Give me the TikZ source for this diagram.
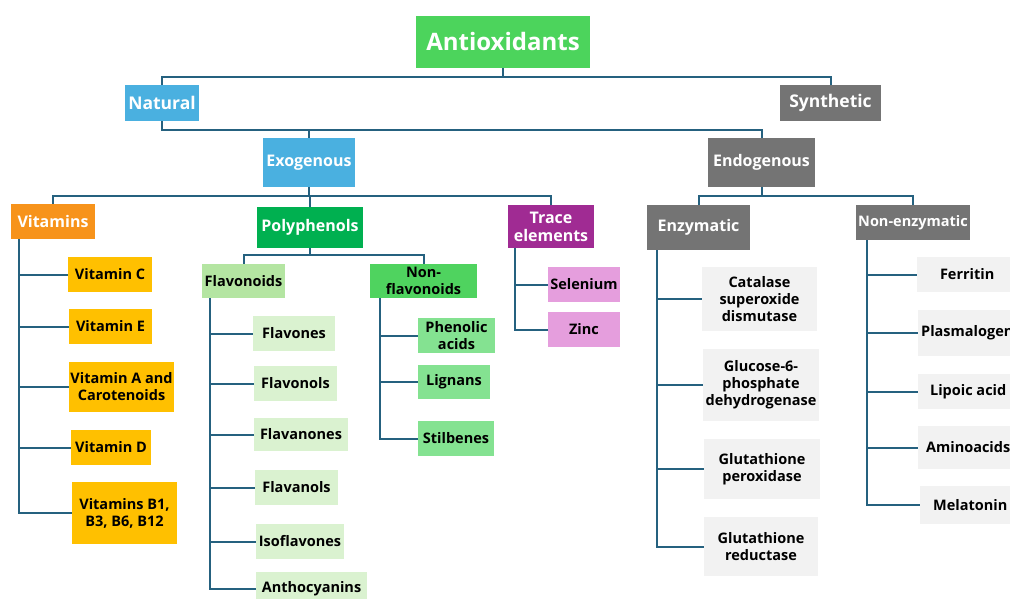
\documentclass[tikz,border=0pt]{standalone}
\usepackage{fontspec}
\setmainfont{Open Sans}
\usepackage{xcolor}
\usepackage{tikz}
\usetikzlibrary{positioning}
\definecolor{topgreen}{HTML}{4CD45C}
\definecolor{natblue}{HTML}{4AB0E0}
\definecolor{syngray}{HTML}{747474}
\definecolor{vitorange}{HTML}{F7931B}
\definecolor{polygreen}{HTML}{00B050}
\definecolor{tracepurple}{HTML}{A02B93}
\definecolor{vityellow}{HTML}{FFC000}
\definecolor{flavogreen}{HTML}{B4E5A2}
\definecolor{flavoleaf}{HTML}{DAF2D0}
\definecolor{nonflavogreen}{HTML}{4FD35F}
\definecolor{nonflavoleaf}{HTML}{84E291}
\definecolor{tracepink}{HTML}{E59EDD}
\definecolor{enzleaf}{HTML}{F2F2F2}
\definecolor{linkblue}{HTML}{25617F}

\begin{document}
\begin{tikzpicture}[x=1pt,y=-1pt,line join=miter,
  box/.style={inner sep=3pt,align=center,font=\bfseries\fontsize{14.5}{17}\selectfont},
  head/.style={box,text=white,font=\bfseries\fontsize{16}{18}\selectfont},
  leaf/.style={box,text=black},
  link/.style={draw=linkblue,line width=2pt}]
\useasboundingbox (0,0) rectangle (1010,599);
\clip (0,0) rectangle (1010,599);
\node[head,fill=topgreen,minimum width=174,minimum height=52,font=\bfseries\fontsize{24}{28}\selectfont] (anti) at (503,42) {Antioxidants};
\node[head,fill=natblue,minimum width=74,minimum height=36,font=\bfseries\fontsize{17.5}{20}\selectfont] (nat) at (162,103) {Natural};
\node[head,fill=syngray,minimum width=101,minimum height=36,font=\bfseries\fontsize{17.5}{20}\selectfont] (syn) at (830.5,103) {Synthetic};
\node[head,fill=natblue,minimum width=90,minimum height=49] (exo) at (309,162.5) {Exogenous};
\node[head,fill=syngray,minimum width=107,minimum height=49] (endo) at (761.5,162.5) {Endogenous};
\node[head,fill=vitorange,minimum width=84,minimum height=35] (vit) at (53,221.5) {Vitamins};
\node[head,fill=polygreen,minimum width=106,minimum height=41] (poly) at (310,227.5) {Polyphenols};
\node[head,fill=tracepurple,minimum width=86,minimum height=43,inner sep=1pt,font=\bfseries\fontsize{16}{18}\selectfont] (trace) at (551,226.5) {Trace\\elements};
\node[head,fill=syngray,minimum width=103,minimum height=45] (enz) at (698.5,227.5) {Enzymatic};
\node[head,fill=syngray,minimum width=114,minimum height=35,inner sep=1pt,font=\bfseries\fontsize{14.5}{17}\selectfont] (nonenz) at (913,222.5) {Non-enzymatic};
\node[leaf,fill=flavogreen,minimum width=83,minimum height=34,inner sep=1pt] (flavo) at (243.5,281) {Flavonoids};
\node[leaf,fill=nonflavogreen,minimum width=107,minimum height=34,inner sep=0pt] (nonflavo) at (423.5,281) {Non-\\flavonoids};
\node[leaf,fill=vityellow,minimum width=84,minimum height=35] (vitc) at (110,274.5) {Vitamin C};
\node[leaf,fill=vityellow,minimum width=83,minimum height=35] (vite) at (110.5,326.5) {Vitamin E};
\node[leaf,fill=vityellow,minimum width=103,minimum height=50,inner sep=1pt] (vita) at (121.5,387) {Vitamin A and\\Carotenoids};
\node[leaf,fill=vityellow,minimum width=80,minimum height=35] (vitd) at (111,447.5) {Vitamin D};
\node[leaf,fill=vityellow,minimum width=105,minimum height=62] (vitb) at (124.5,513) {Vitamins B1,\\B3, B6, B12};
\node[leaf,fill=flavoleaf,minimum width=82,minimum height=35] (flavones) at (294,333.5) {Flavones};
\node[leaf,fill=flavoleaf,minimum width=83,minimum height=35] (flavonols) at (295.5,383.5) {Flavonols};
\node[leaf,fill=flavoleaf,minimum width=94,minimum height=33] (flavanones) at (301,434.5) {Flavanones};
\node[leaf,fill=flavoleaf,minimum width=83,minimum height=35] (flavanols) at (296.5,487.5) {Flavanols};
\node[leaf,fill=flavoleaf,minimum width=88,minimum height=35] (isoflav) at (300,541.5) {Isoflavones};
\node[leaf,fill=flavoleaf,minimum width=111,minimum height=35] (antho) at (311.5,589) {Anthocyanins};
\node[leaf,fill=nonflavoleaf,minimum width=77,minimum height=35,inner sep=0pt] (phenolic) at (456.5,335.5) {Phenolic\\acids};
\node[leaf,fill=nonflavoleaf,minimum width=72,minimum height=34] (lignans) at (454,382) {Lignans};
\node[leaf,fill=nonflavoleaf,minimum width=76,minimum height=35] (stilb) at (456,438.5) {Stilbenes};
\node[leaf,fill=tracepink,minimum width=72,minimum height=35,inner sep=1pt] (selen) at (584,284.5) {Selenium};
\node[leaf,fill=tracepink,minimum width=72,minimum height=35] (zinc) at (584,329.5) {Zinc};
\node[leaf,fill=enzleaf,minimum width=115,minimum height=64,inner sep=0pt] (catal) at (759.5,299) {Catalase\\superoxide\\dismutase};
\node[leaf,fill=enzleaf,minimum width=116,minimum height=72,inner sep=1pt] (g6pd) at (761,385) {Glucose-6-\\phosphate\\dehydrogenase};
\node[leaf,fill=enzleaf,minimum width=116,minimum height=60] (gpx) at (762,469) {Glutathione\\peroxidase};
\node[leaf,fill=enzleaf,minimum width=114,minimum height=59] (gred) at (761,546.5) {Glutathione\\reductase};
\node[leaf,fill=enzleaf,minimum width=100,minimum height=35,anchor=west] (ferr) at (917,274.5) {Ferritin};
\node[leaf,fill=enzleaf,minimum width=100,minimum height=46,anchor=west] (plasm) at (918,333) {Plasmalogens};
\node[leaf,fill=enzleaf,minimum width=100,minimum height=35,anchor=west] (lipoic) at (918,391.5) {Lipoic acid};
\node[leaf,fill=enzleaf,minimum width=100,minimum height=43,anchor=west] (amino) at (918,447.5) {Aminoacids};
\node[leaf,fill=enzleaf,minimum width=100,minimum height=38,anchor=west] (melat) at (920,505) {Melatonin};
\draw[link] (anti.south) -- ++(0,9) -| (nat.north);
\draw[link] (anti.south) -- ++(0,9) -| (syn.north);
\draw[link] (nat.south) -- ++(0,9) -| (exo.north);
\draw[link] (nat.south) -- ++(0,9) -| (endo.north);
\draw[link] (exo.south) -- ++(0,9) -| (vit.north);
\draw[link] (exo.south) -- ++(0,9) -| (poly.north);
\draw[link] (exo.south) -- ++(0,9) -| (trace.north);
\draw[link] (endo.south) -- ++(0,9) -| (enz.north);
\draw[link] (endo.south) -- ++(0,9) -| (nonenz.north);
\draw[link] (poly.south) -- ++(0,7) -| (flavo.north);
\draw[link] (poly.south) -- ++(0,7) -| (nonflavo.north);
\draw[link] ([xshift=8]vit.south west) |- (vitc.west);
\draw[link] ([xshift=8]vit.south west) |- (vite.west);
\draw[link] ([xshift=8]vit.south west) |- (vita.west);
\draw[link] ([xshift=8]vit.south west) |- (vitd.west);
\draw[link] ([xshift=8]vit.south west) |- (vitb.west);
\draw[link] ([xshift=8]flavo.south west) |- (flavones.west);
\draw[link] ([xshift=8]flavo.south west) |- (flavonols.west);
\draw[link] ([xshift=8]flavo.south west) |- (flavanones.west);
\draw[link] ([xshift=8]flavo.south west) |- (flavanols.west);
\draw[link] ([xshift=8]flavo.south west) |- (isoflav.west);
\draw[link] ([xshift=8]flavo.south west) |- (antho.west);
\draw[link] ([xshift=10]nonflavo.south west) |- (phenolic.west);
\draw[link] ([xshift=10]nonflavo.south west) |- (lignans.west);
\draw[link] ([xshift=10]nonflavo.south west) |- (stilb.west);
\draw[link] ([xshift=7]trace.south west) |- (selen.west);
\draw[link] ([xshift=7]trace.south west) |- (zinc.west);
\draw[link] ([xshift=10]enz.south west) |- (catal.west);
\draw[link] ([xshift=10]enz.south west) |- (g6pd.west);
\draw[link] ([xshift=10]enz.south west) |- (gpx.west);
\draw[link] ([xshift=10]enz.south west) |- (gred.west);
\draw[link] ([xshift=11]nonenz.south west) |- (ferr.west);
\draw[link] ([xshift=11]nonenz.south west) |- (plasm.west);
\draw[link] ([xshift=11]nonenz.south west) |- (lipoic.west);
\draw[link] ([xshift=11]nonenz.south west) |- (amino.west);
\draw[link] ([xshift=11]nonenz.south west) |- (melat.west);
\end{tikzpicture}
\end{document}
